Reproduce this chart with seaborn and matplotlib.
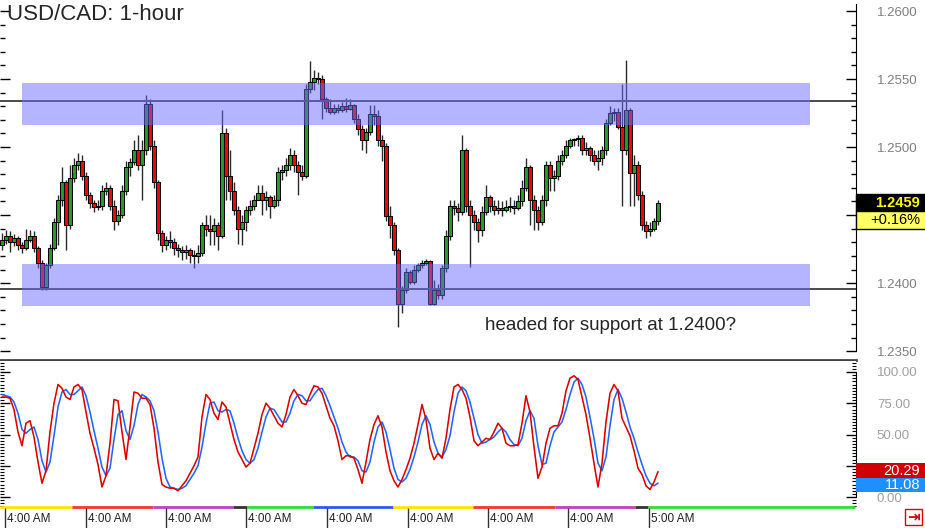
import numpy as np
import pandas as pd
import matplotlib
matplotlib.use("Agg")
import matplotlib.pyplot as plt
import matplotlib.transforms as mtransforms
from matplotlib.patches import Rectangle
from matplotlib.ticker import MultipleLocator, FuncFormatter
import seaborn as sns

# USD/CAD 1-hour candles
first_open = 1.2428
closes = [1.2432, 1.2435, 1.2430, 1.2433, 1.2428, 1.2426, 1.2432, 1.2435, 1.2426, 1.2415,
          1.2397, 1.2413, 1.2426, 1.2445, 1.2461, 1.2474, 1.2443, 1.2477, 1.2487, 1.2490,
          1.2479, 1.2465, 1.2459, 1.2456, 1.2457, 1.2468, 1.2470, 1.2457, 1.2446, 1.2450,
          1.2468, 1.2485, 1.2489, 1.2498, 1.2487, 1.2498, 1.2532, 1.2501, 1.2474, 1.2437,
          1.2428, 1.2432, 1.2430, 1.2426, 1.2424, 1.2423, 1.2424, 1.2421, 1.2420, 1.2422,
          1.2443, 1.2440, 1.2438, 1.2443, 1.2435, 1.2510, 1.2479, 1.2468, 1.2454, 1.2440,
          1.2445, 1.2454, 1.2457, 1.2461, 1.2466, 1.2461, 1.2463, 1.2457, 1.2461, 1.2482,
          1.2483, 1.2487, 1.2494, 1.2487, 1.2482, 1.2479, 1.2543, 1.2548, 1.2551, 1.2550,
          1.2535, 1.2529, 1.2526, 1.2529, 1.2527, 1.2530, 1.2528, 1.2531, 1.2521, 1.2513,
          1.2505, 1.2511, 1.2524, 1.2523, 1.2505, 1.2501, 1.2449, 1.2443, 1.2424, 1.2385,
          1.2395, 1.2408, 1.2401, 1.2410, 1.2413, 1.2415, 1.2416, 1.2385, 1.2395, 1.2391,
          1.2411, 1.2435, 1.2457, 1.2455, 1.2452, 1.2498, 1.2457, 1.2450, 1.2445, 1.2439,
          1.2452, 1.2463, 1.2457, 1.2454, 1.2455, 1.2454, 1.2456, 1.2457, 1.2455, 1.2460,
          1.2470, 1.2485, 1.2461, 1.2454, 1.2445, 1.2461, 1.2487, 1.2477, 1.2479, 1.2490,
          1.2494, 1.2501, 1.2505, 1.2506, 1.2507, 1.2498, 1.2499, 1.2494, 1.2490, 1.2492,
          1.2498, 1.2518, 1.2525, 1.2526, 1.2515, 1.2498, 1.2527, 1.2481, 1.2487, 1.2465,
          1.2443, 1.2438, 1.2440, 1.2446, 1.2459]
highs = [1.2437, 1.2439, 1.2438, 1.2436, 1.2435, 1.2430, 1.2440, 1.2439, 1.2438, 1.2427,
         1.2417, 1.2415, 1.2429, 1.2448, 1.2465, 1.2485, 1.2476, 1.2487, 1.2492, 1.2496,
         1.2494, 1.2482, 1.2467, 1.2461, 1.2461, 1.2472, 1.2474, 1.2472, 1.2461, 1.2454,
         1.2472, 1.2490, 1.2492, 1.2505, 1.2509, 1.2505, 1.2538, 1.2535, 1.2505, 1.2476,
         1.2439, 1.2435, 1.2438, 1.2433, 1.2429, 1.2427, 1.2428, 1.2426, 1.2424, 1.2428,
         1.2445, 1.2450, 1.2450, 1.2448, 1.2445, 1.2527, 1.2514, 1.2498, 1.2474, 1.2457,
         1.2450, 1.2457, 1.2461, 1.2465, 1.2472, 1.2472, 1.2468, 1.2465, 1.2465, 1.2485,
         1.2487, 1.2492, 1.2499, 1.2498, 1.2490, 1.2487, 1.2546, 1.2563, 1.2557, 1.2555,
         1.2553, 1.2537, 1.2535, 1.2532, 1.2532, 1.2533, 1.2536, 1.2535, 1.2532, 1.2524,
         1.2516, 1.2514, 1.2531, 1.2531, 1.2527, 1.2509, 1.2503, 1.2457, 1.2445, 1.2426,
         1.2398, 1.2411, 1.2410, 1.2413, 1.2415, 1.2417, 1.2418, 1.2417, 1.2402, 1.2399,
         1.2413, 1.2439, 1.2461, 1.2461, 1.2459, 1.2509, 1.2499, 1.2461, 1.2454, 1.2448,
         1.2457, 1.2472, 1.2465, 1.2461, 1.2461, 1.2460, 1.2461, 1.2463, 1.2461, 1.2465,
         1.2476, 1.2492, 1.2487, 1.2465, 1.2457, 1.2465, 1.2490, 1.2490, 1.2483, 1.2494,
         1.2498, 1.2505, 1.2507, 1.2507, 1.2509, 1.2509, 1.2504, 1.2501, 1.2498, 1.2498,
         1.2501, 1.2521, 1.2530, 1.2529, 1.2529, 1.2546, 1.2564, 1.2529, 1.2494, 1.2490,
         1.2468, 1.2446, 1.2445, 1.2448, 1.2461]
lows = [1.2424, 1.2429, 1.2423, 1.2427, 1.2424, 1.2422, 1.2424, 1.2430, 1.2423, 1.2411,
        1.2395, 1.2395, 1.2411, 1.2424, 1.2428, 1.2457, 1.2424, 1.2440, 1.2474, 1.2483,
        1.2476, 1.2461, 1.2455, 1.2452, 1.2454, 1.2454, 1.2465, 1.2454, 1.2439, 1.2443,
        1.2448, 1.2465, 1.2479, 1.2487, 1.2483, 1.2461, 1.2494, 1.2498, 1.2470, 1.2432,
        1.2423, 1.2424, 1.2426, 1.2421, 1.2419, 1.2417, 1.2418, 1.2415, 1.2411, 1.2415,
        1.2420, 1.2435, 1.2428, 1.2428, 1.2424, 1.2433, 1.2461, 1.2461, 1.2450, 1.2429,
        1.2428, 1.2438, 1.2450, 1.2454, 1.2461, 1.2450, 1.2454, 1.2448, 1.2455, 1.2457,
        1.2476, 1.2479, 1.2483, 1.2482, 1.2465, 1.2476, 1.2477, 1.2540, 1.2542, 1.2546,
        1.2521, 1.2526, 1.2524, 1.2524, 1.2525, 1.2526, 1.2526, 1.2527, 1.2518, 1.2509,
        1.2498, 1.2496, 1.2509, 1.2516, 1.2501, 1.2490, 1.2446, 1.2433, 1.2421, 1.2368,
        1.2378, 1.2393, 1.2399, 1.2399, 1.2408, 1.2411, 1.2413, 1.2384, 1.2384, 1.2388,
        1.2388, 1.2408, 1.2432, 1.2450, 1.2446, 1.2450, 1.2452, 1.2412, 1.2439, 1.2430,
        1.2435, 1.2450, 1.2452, 1.2450, 1.2451, 1.2449, 1.2452, 1.2452, 1.2451, 1.2454,
        1.2457, 1.2468, 1.2443, 1.2439, 1.2439, 1.2443, 1.2457, 1.2468, 1.2468, 1.2476,
        1.2487, 1.2492, 1.2499, 1.2501, 1.2501, 1.2494, 1.2494, 1.2490, 1.2487, 1.2483,
        1.2487, 1.2494, 1.2516, 1.2519, 1.2513, 1.2457, 1.2494, 1.2457, 1.2457, 1.2461,
        1.2439, 1.2433, 1.2435, 1.2438, 1.2443]

# slow stochastic (%K red, %D blue)
stoch_k = [80, 80, 79, 70, 52, 41, 59, 61, 48, 28,
           11, 21, 52, 75, 90, 87, 80, 78, 88, 90,
           86, 68, 51, 39, 26, 8, 17, 43, 78, 77,
           52, 30, 56, 84, 83, 79, 79, 74, 55, 28,
           10, 8, 7, 7, 5, 9, 13, 19, 25, 32,
           64, 82, 78, 67, 62, 76, 72, 59, 46, 36,
           30, 24, 27, 39, 51, 66, 75, 71, 65, 59,
           56, 66, 80, 86, 81, 75, 74, 82, 89, 88,
           83, 73, 63, 57, 45, 30, 33, 33, 31, 22,
           11, 28, 46, 58, 65, 56, 36, 21, 13, 8,
           14, 22, 31, 43, 58, 74, 62, 39, 30, 35,
           31, 47, 70, 88, 90, 86, 79, 64, 45, 41,
           44, 47, 46, 52, 59, 55, 43, 41, 41, 42,
           59, 81, 68, 40, 15, 24, 43, 55, 57, 57,
           67, 85, 95, 97, 94, 80, 66, 47, 27, 8,
           27, 60, 83, 90, 85, 63, 56, 49, 37, 23,
           18, 9, 6, 12, 20.29]
stoch_d = [82, 81, 80, 76, 67, 54, 51, 54, 56, 46,
           29, 20, 28, 49, 72, 84, 86, 82, 82, 85,
           88, 81, 68, 53, 39, 24, 17, 23, 46, 66,
           69, 53, 46, 57, 74, 82, 80, 77, 69, 52,
           31, 15, 8, 7, 6, 7, 9, 14, 19, 25,
           40, 59, 75, 76, 69, 68, 70, 69, 59, 47,
           37, 30, 27, 30, 39, 52, 64, 71, 70, 65,
           60, 60, 67, 77, 82, 81, 77, 77, 82, 86,
           87, 81, 73, 64, 55, 44, 36, 32, 32, 29,
           21, 20, 28, 44, 56, 60, 52, 38, 23, 14,
           12, 15, 22, 32, 44, 58, 65, 58, 44, 35,
           32, 38, 49, 68, 83, 88, 85, 76, 63, 50,
           43, 44, 46, 48, 52, 55, 52, 46, 42, 41,
           47, 61, 69, 63, 41, 26, 27, 41, 52, 56,
           60, 70, 82, 92, 95, 90, 80, 64, 47, 27,
           21, 32, 57, 78, 86, 79, 68, 56, 47, 36,
           26, 17, 11, 9, 11.08]

# time axis (candle index) and trading-session colour bar
tick_pos = [0.75, 20.9, 41.0, 61.1, 81.2, 101.4, 121.5, 141.6, 161.7]
tick_labels = ["4:00 AM"] * 8 + ["5:00 AM"]
session_starts = [-0.5, 17.5, 37.75, 57.75, 61.25, 77.75, 97.75, 117.75, 138.25, 158.25, 161.5]
session_ends = [17.5, 37.75, 57.75, 61.25, 77.75, 97.75, 117.75, 138.25, 158.25, 161.5, 213.25]
session_colors = ["#ffe600", "#ff3333", "#c040c0", "#333333", "#33dd33", "#3355ee",
                  "#ffe600", "#ff3333", "#c040c0", "#333333", "#33dd33"]

# support / resistance
resistance = 1.2534
support = 1.2396
zone_lows = [1.2516, 1.2383]
zone_highs = [1.2547, 1.2414]
zone_start, zone_end = 5, 202

df = pd.DataFrame({"close": closes, "high": highs, "low": lows})
df["open"] = [first_open] + closes[:-1]
df["idx"] = np.arange(len(df))
df["up"] = df["close"] >= df["open"]
df["body_lo"] = df[["open", "close"]].min(axis=1)
df["body_h"] = (df["close"] - df["open"]).abs().clip(lower=0.00004)

sns.set_style("white")
plt.rcParams["font.family"] = ["Liberation Sans", "DejaVu Sans"]

fig = plt.figure(figsize=(9.25, 5.28), dpi=100)
ax1 = fig.add_axes([0, 1 - 360 / 528, 856 / 925, 360 / 528])
ax2 = fig.add_axes([0, 1 - 507 / 528, 856 / 925, 146 / 528])
ax3 = fig.add_axes([0, 0, 856 / 925, 21 / 528])

# candles
ax1.vlines(df["idx"], df["low"], df["high"], color="#2a2a2a", lw=1, zorder=2)
ax1.bar(df["idx"], df["body_h"], bottom=df["body_lo"], width=0.85,
        color=np.where(df["up"], "#22a022", "#ff0000"),
        edgecolor="black", linewidth=0.75, zorder=3)

ax1.axhline(resistance, color="#4a4a4a", lw=1.4, zorder=3.5)
ax1.axhline(support, color="#4a4a4a", lw=1.4, zorder=3.5)
for lo, hi in zip(zone_lows, zone_highs):
    ax1.add_patch(Rectangle((zone_start, lo), zone_end - zone_start, hi - lo,
                            facecolor="#6a6aff", alpha=0.5, edgecolor="none", zorder=4))

ax1.text(120.75, 1.2369, "headed for support at 1.2400?", fontsize=13.5,
         ha="left", va="center", zorder=6)

# the last-price tag hides the 1.2450 label, as on the original
last = closes[-1]
ax1.set_xlim(-0.5, 213.5)
ax1.set_ylim(1.23435, 1.26081)
ax1.yaxis.set_major_locator(MultipleLocator(0.005))
ax1.yaxis.set_minor_locator(MultipleLocator(0.001))
ax1.yaxis.set_major_formatter(FuncFormatter(
    lambda v, p: "" if abs(v - last) < 0.0015 else f"{v:.4f}"))
ax1.tick_params(axis="x", bottom=False, labelbottom=False)
ax1.tick_params(axis="y", which="both", direction="in", left=True, right=True,
                labelleft=False, labelright=True, pad=15, labelsize=9.5,
                labelcolor="#808080", color="black")
ax1.tick_params(axis="y", which="major", length=7, width=1)
ax1.tick_params(axis="y", which="minor", length=3.5, width=1)
for s in ["top", "left"]:
    ax1.spines[s].set_visible(False)
ax1.spines["right"].set_color("black")
ax1.spines["right"].set_bounds(1.2350, 1.2605)
ax1.spines["bottom"].set_color("#444444")
ax1.spines["bottom"].set_linewidth(2)

# current price tags
blend1 = mtransforms.blended_transform_factory(ax1.transAxes, ax1.transData)
ax1.add_patch(Rectangle((1.0, last - 0.000625), 0.09, 0.00125, transform=blend1,
                        facecolor="black", edgecolor="black", clip_on=False, zorder=10))
ax1.add_patch(Rectangle((1.0, last - 0.00195), 0.09, 0.00132, transform=blend1,
                        facecolor="#ffff66", edgecolor="black", lw=1, clip_on=False, zorder=10))
ax1.text(1.0748, last, f"{last:.4f}", transform=blend1, ha="right", va="center",
         color="#ffff00", fontsize=10.5, fontweight="bold", zorder=11)
ax1.text(1.0748, last - 0.00129, "+0.16%", transform=blend1, ha="right", va="center",
         color="black", fontsize=10.5, zorder=11)

# stochastic panel
k_last, d_last = stoch_k[-1], stoch_d[-1]
sns.lineplot(x=df["idx"], y=stoch_d, ax=ax2, color="#2266ff", lw=1.15)
sns.lineplot(x=df["idx"], y=stoch_k, ax=ax2, color="#dd0000", lw=1.15)
ax2.set_xlim(-0.5, 213.5)
ax2.set_ylim(-8, 108.8)
ax2.set_xlabel("")
ax2.set_ylabel("")
ax2.yaxis.set_major_locator(MultipleLocator(25))
ax2.yaxis.set_minor_locator(MultipleLocator(2.5))
ax2.yaxis.set_major_formatter(FuncFormatter(
    lambda v, p: "" if abs(v - k_last) < 8 else f"{v:.2f}"))
ax2.tick_params(axis="x", bottom=False, labelbottom=False)
ax2.tick_params(axis="y", which="both", direction="in", left=True, right=True,
                labelleft=False, labelright=True, pad=15, labelsize=9.5,
                labelcolor="#a0a0a0", color="black")
ax2.tick_params(axis="y", which="major", length=7, width=1)
ax2.tick_params(axis="y", which="minor", length=3, width=0.8)
for s in ["top", "left", "bottom"]:
    ax2.spines[s].set_visible(False)
ax2.spines["right"].set_color("black")
ax2.spines["right"].set_bounds(0, 100)

blend2 = mtransforms.blended_transform_factory(ax2.transAxes, ax2.transData)
ax2.add_patch(Rectangle((1.0, k_last - 5.1), 0.09, 12, transform=blend2,
                        facecolor="#d00000", edgecolor="none", clip_on=False, zorder=10))
ax2.add_patch(Rectangle((1.0, d_last - 7.1), 0.09, (k_last - 5.1) - (d_last - 7.1),
                        transform=blend2, facecolor="#1e8fff", edgecolor="none",
                        clip_on=False, zorder=10))
ax2.text(1.0748, k_last + 0.9, f"{k_last:.2f}", transform=blend2, ha="right", va="center",
         color="white", fontsize=10.5, zorder=11)
ax2.text(1.0748, d_last - 1.5, f"{d_last:.2f}", transform=blend2, ha="right", va="center",
         color="white", fontsize=10.5, zorder=11)

# time strip
ax3.set_xlim(-0.5, 213.5)
ax3.set_ylim(0, 1)
ax3.axis("off")
ax3.hlines([1.0] * len(session_starts), session_starts, session_ends,
           colors=session_colors, lw=2, clip_on=False)
ax3.vlines(tick_pos, 0, 0.93, color="#333333", lw=1)
for p, lab in zip(tick_pos, tick_labels):
    ax3.text(p + 0.5, 0.42, lab, ha="left", va="center", fontsize=8.5, color="#222222")

fig.text(7 / 925, 1 - 15 / 528, "USD/CAD: 1-hour", fontsize=16, ha="left", va="center")

fig.patches.append(Rectangle((905 / 925, 3 / 528), 17 / 925, 16 / 528, transform=fig.transFigure,
                             facecolor="white", edgecolor="#dd0000", lw=1))
fig.text(913.5 / 925, 11 / 528, "\u21e5", color="#dd0000", fontsize=11, fontweight="bold",
         ha="center", va="center")

fig.savefig("out.png", dpi=100)
